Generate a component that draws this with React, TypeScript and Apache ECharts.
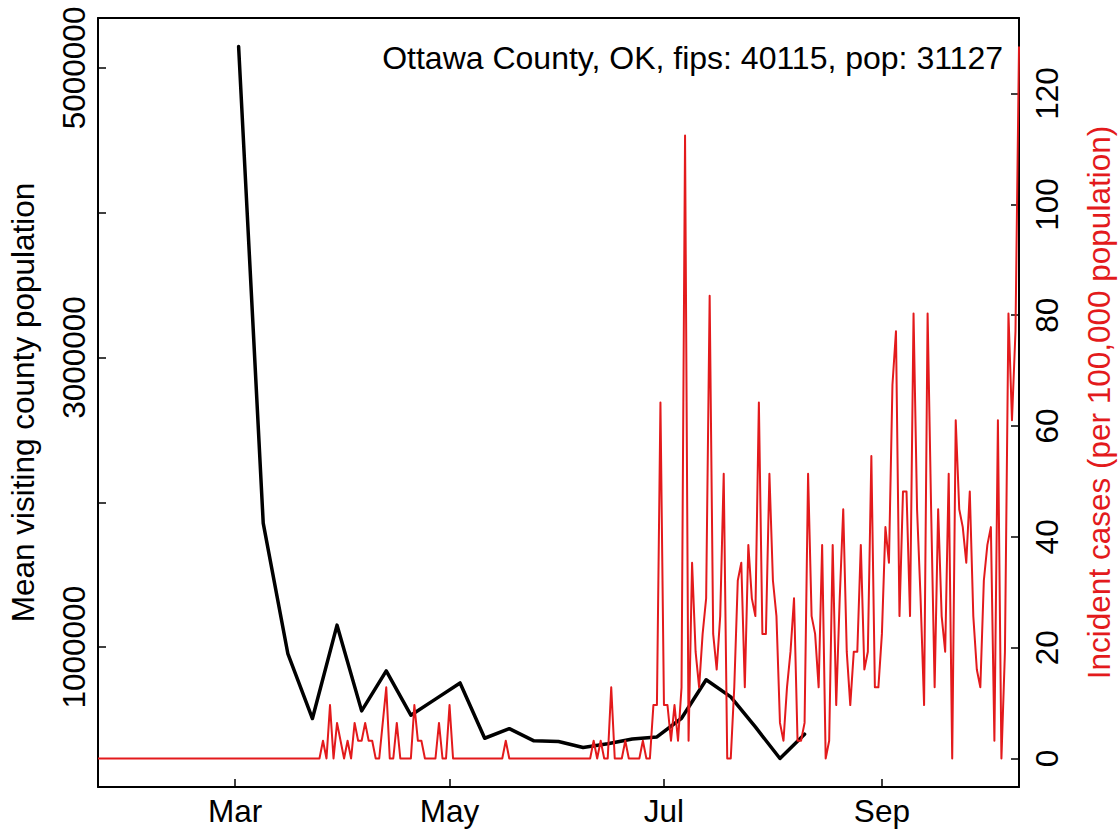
import React, { useEffect, useRef } from "react";
import * as echarts from "echarts";

// ---------- data ----------
const visitDates = [
  "2020-03-02", "2020-03-09", "2020-03-16", "2020-03-23", "2020-03-30",
  "2020-04-06", "2020-04-13", "2020-04-20", "2020-04-27", "2020-05-04",
  "2020-05-11", "2020-05-18", "2020-05-25", "2020-06-01", "2020-06-08",
  "2020-06-15", "2020-06-22", "2020-06-29", "2020-07-06", "2020-07-13",
  "2020-07-20", "2020-07-27", "2020-08-03", "2020-08-10",
];
const visitPopulation = [
  5148000, 1857000, 956000, 507000, 1152000,
  560000, 836000, 530000, 641000, 753000,
  371000, 437000, 353000, 349000, 307000,
  333000, 366000, 380000, 509000, 775000,
  657000, 449000, 231000, 399000,
];

const caseStartDate = "2020-01-22"; // daily values from this date
const incidentRates = [
  0, 0, 0, 0, 0, 0, 0, 0, 0, 0,
  0, 0, 0, 0, 0, 0, 0, 0, 0, 0,
  0, 0, 0, 0, 0, 0, 0, 0, 0, 0,
  0, 0, 0, 0, 0, 0, 0, 0, 0, 0,
  0, 0, 0, 0, 0, 0, 0, 0, 0, 0,
  0, 0, 0, 0, 0, 0, 0, 0, 0, 0,
  0, 0, 0, 0, 3.21, 0, 9.64, 0, 6.43, 3.21,
  0, 3.21, 0, 6.43, 3.21, 3.21, 6.43, 3.21, 3.21, 0,
  0, 6.43, 12.85, 0, 0, 6.43, 0, 0, 0, 0,
  9.64, 3.21, 3.21, 0, 0, 0, 0, 6.43, 0, 0,
  9.64, 0, 0, 0, 0, 0, 0, 0, 0, 0,
  0, 0, 0, 0, 0, 0, 3.21, 0, 0, 0,
  0, 0, 0, 0, 0, 0, 0, 0, 0, 0,
  0, 0, 0, 0, 0, 0, 0, 0, 0, 0,
  0, 3.21, 0, 3.21, 0, 0, 12.85, 0, 0, 0,
  3.21, 0, 0, 0, 0, 3.21, 0, 0, 9.64, 9.64,
  64.25, 9.64, 9.64, 3.21, 9.64, 3.21, 12.85, 112.44, 3.21, 35.34,
  19.28, 12.85, 22.49, 28.91, 83.53, 22.49, 16.06, 25.7, 51.4, 0,
  0, 12.85, 32.13, 35.34, 12.85, 38.55, 28.91, 25.7, 64.25, 22.49,
  22.49, 51.4, 32.13, 25.7, 6.43, 3.21, 12.85, 19.28, 28.91, 3.21,
  3.21, 6.43, 51.4, 25.7, 22.49, 12.85, 38.55, 0, 3.21, 38.55,
  9.64, 28.91, 44.98, 19.28, 9.64, 19.28, 19.28, 38.55, 16.06, 19.28,
  54.61, 12.85, 12.85, 22.49, 41.76, 35.34, 67.46, 77.1, 25.7, 48.19,
  48.19, 25.7, 80.31, 44.98, 28.91, 9.64, 80.31, 44.98, 12.85, 44.98,
  25.7, 19.28, 51.4, 0, 61.04, 44.98, 41.76, 35.34, 48.19, 25.7,
  16.06, 12.85, 32.13, 38.55, 41.76, 3.21, 61.04, 0, 19.28, 80.31,
  61.04, 77.1, 128.5,
];

const xRange = ["2020-01-22", "2020-10-10"];
const monthTickDates = ["2020-03-01", "2020-05-01", "2020-07-01", "2020-09-01"];
const monthTickLabels = ["Mar", "May", "Jul", "Sep"];
const leftRange = [34320, 5344680];
const leftTicks = [1000000, 2000000, 3000000, 4000000, 5000000];
const leftTickLabels = [1000000, 3000000, 5000000];
const rightRange = [-5.14, 133.64];
const rightTicks = [0, 20, 40, 60, 80, 100, 120];

const titleText = "Ottawa County, OK, fips: 40115, pop: 31127";
const leftAxisTitle = "Mean visiting county population";
const rightAxisTitle = "Incident cases (per 100,000 population)";

// ---------- helpers ----------
const DAY = 86400000;
function ts(s: string): number {
  const [y, m, d] = s.split("-").map(Number);
  return Date.UTC(y, m - 1, d);
}

const FONT = "Liberation Sans, Arial, Helvetica, sans-serif";
const FS = 31.5;
const RED = "#e31a1c";

export default function App() {
  const ref = useRef<HTMLDivElement>(null);

  useEffect(() => {
    if (!ref.current) return;
    const chart = echarts.init(ref.current, null, { renderer: "svg" });
    const monthTs = monthTickDates.map(ts);
    const startTs = ts(caseStartDate);

    const option: any = {
      animation: false,
      backgroundColor: "#ffffff",
      grid: {
        left: 98,
        right: 100,
        top: 18,
        bottom: 43,
        containLabel: false,
      },
      xAxis: [
        {
          type: "value",
          position: "bottom",
          min: ts(xRange[0]),
          max: ts(xRange[1]),
          axisLine: { show: true, onZero: false, lineStyle: { color: "#000", width: 2 } },
          axisTick: {
            show: true,
            inside: true,
            length: 8,
            customValues: monthTs,
            lineStyle: { color: "#000", width: 1.5 },
          },
          axisLabel: {
            show: true,
            customValues: monthTs,
            formatter: (v: number) => {
              let best = 0;
              monthTs.forEach((t, i) => {
                if (Math.abs(t - v) < Math.abs(monthTs[best] - v)) best = i;
              });
              return monthTickLabels[best];
            },
            color: "#000",
            fontSize: FS,
            fontFamily: FONT,
            verticalAlign: "middle",
            margin: 24,
            hideOverlap: false,
          },
          splitLine: { show: false },
        },
        {
          type: "value",
          position: "top",
          min: ts(xRange[0]),
          max: ts(xRange[1]),
          axisLine: { show: true, onZero: false, lineStyle: { color: "#000", width: 2 } },
          axisTick: { show: false },
          axisLabel: { show: false },
          splitLine: { show: false },
        },
      ],
      yAxis: [
        {
          type: "value",
          position: "left",
          min: leftRange[0],
          max: leftRange[1],
          axisLine: { show: true, onZero: false, lineStyle: { color: "#000", width: 2 } },
          axisTick: {
            show: true,
            inside: true,
            length: 8,
            customValues: leftTicks,
            lineStyle: { color: "#000", width: 1.5 },
          },
          axisLabel: {
            show: true,
            customValues: leftTickLabels,
            rotate: 90,
            formatter: (v: number) => String(Math.round(v)),
            color: "#000",
            fontSize: FS,
            fontFamily: FONT,
            verticalAlign: "middle",
            margin: 24,
          },
          splitLine: { show: false },
        },
        {
          type: "value",
          position: "right",
          min: rightRange[0],
          max: rightRange[1],
          axisLine: { show: true, onZero: false, lineStyle: { color: "#000", width: 2 } },
          axisTick: {
            show: true,
            inside: true,
            length: 8,
            customValues: rightTicks,
            lineStyle: { color: "#000", width: 1.5 },
          },
          axisLabel: {
            show: true,
            customValues: rightTicks,
            rotate: 90,
            formatter: (v: number) => String(Math.round(v)),
            color: "#000",
            fontSize: FS,
            fontFamily: FONT,
            verticalAlign: "middle",
            margin: 28,
          },
          splitLine: { show: false },
        },
      ],
      series: [
        {
          type: "line",
          name: "visitors",
          xAxisIndex: 0,
          yAxisIndex: 0,
          data: visitDates.map((d, i) => [ts(d), visitPopulation[i]]),
          showSymbol: false,
          symbol: "none",
          lineStyle: { color: "#000", width: 3.5, join: "round", cap: "round" },
          z: 2,
        },
        {
          type: "line",
          name: "cases",
          xAxisIndex: 0,
          yAxisIndex: 1,
          data: incidentRates.map((v, i) => [startTs + i * DAY, v]),
          showSymbol: false,
          symbol: "none",
          lineStyle: { color: RED, width: 2, join: "round" },
          z: 3,
        },
      ],
      graphic: [
        {
          type: "text",
          x: 1003,
          y: 58,
          style: {
            text: titleText,
            fill: "#000",
            font: `32px ${FONT}`,
            align: "right",
            verticalAlign: "middle",
          },
        },
        {
          type: "text",
          x: 22.6,
          y: 402.5,
          rotation: Math.PI / 2,
          style: {
            text: leftAxisTitle,
            fill: "#000",
            font: `${FS}px ${FONT}`,
            align: "center",
            verticalAlign: "middle",
          },
        },
        {
          type: "text",
          x: 1099,
          y: 402.5,
          rotation: Math.PI / 2,
          style: {
            text: rightAxisTitle,
            fill: RED,
            font: `${FS}px ${FONT}`,
            align: "center",
            verticalAlign: "middle",
          },
        },
      ],
    };

    chart.setOption(option);
    return () => chart.dispose();
  }, []);

  return (
    <div
      ref={ref}
      style={{ position: "fixed", left: 0, top: 0, width: 1119, height: 830, background: "#fff" }}
    />
  );
}
